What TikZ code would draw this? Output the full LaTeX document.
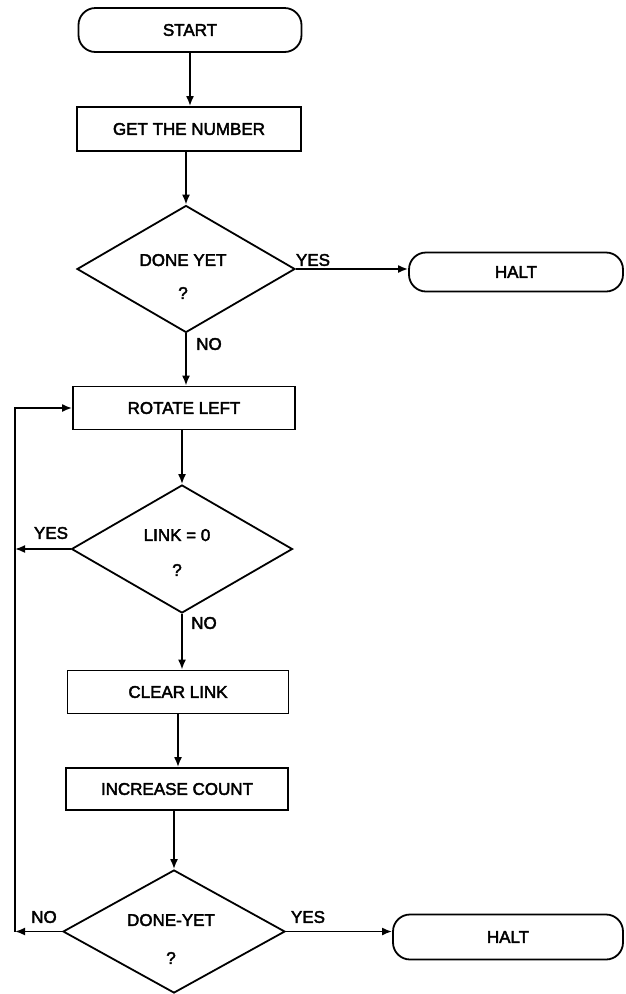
\documentclass[tikz,border=0pt]{standalone}
\usepackage{fontspec}
\setmainfont{Liberation Sans}[FakeBold=2.5]
\usetikzlibrary{shapes.geometric,arrows.meta}
\begin{document}
\begin{tikzpicture}[x=1pt,y=-1pt,
  every node/.style={font=\fontsize{17}{20}\selectfont},
  proc/.style={draw, line width=1.8pt, rectangle, inner sep=0pt},
  term/.style={draw, line width=1.8pt, rectangle, rounded corners=17pt, inner sep=0pt},
  dec/.style={draw, line width=1.8pt, diamond, inner sep=0pt},
  dtxt/.style={inner sep=0pt, align=center},
  lbl/.style={inner sep=0pt},
  arr/.style={line width=1.8pt, -{Latex[length=10pt,width=8pt]}}]
\useasboundingbox (0,0) rectangle (625,994);

% boxes
\node[term, minimum width=223pt, minimum height=44pt] (start) at (190,30) {START};
\node[proc, minimum width=224pt, minimum height=44pt] (get) at (189,129) {GET THE NUMBER};
\node[dec, minimum width=218pt, minimum height=127pt] (d1) at (186,269) {};
\node[dtxt, font=\fontsize{17}{33}\selectfont] (d1t) at (183,276.5) {DONE YET\\?};
\node[term, minimum width=214pt, minimum height=39pt] (halt1) at (516,272) {HALT};
\node[proc, minimum width=222pt, minimum height=43pt] (rot) at (184,408) {ROTATE LEFT};
\node[dec, minimum width=221pt, minimum height=128pt] (d2) at (182,549) {};
\node[dtxt, font=\fontsize{17}{35}\selectfont] (d2t) at (177,552.5) {LINK = 0\\?};
\node[proc, minimum width=221pt, minimum height=43pt] (clr) at (178,692) {CLEAR LINK};
\node[proc, minimum width=222pt, minimum height=42pt] (inc) at (177,789) {INCREASE COUNT};
\node[dec, minimum width=222pt, minimum height=123pt] (d3) at (174,931.5) {};
\node[dtxt, font=\fontsize{17}{38}\selectfont] (d3t) at (171,939) {DONE-YET\\?};
\node[term, minimum width=230pt, minimum height=45pt] (halt2) at (508,937) {HALT};

% labels
\node[lbl] (y1) at (313,260) {YES};
\node[lbl] (n1) at (209,344) {NO};
\node[lbl] (y2) at (51,533) {YES};
\node[lbl] (n2) at (204,623) {NO};
\node[lbl] (n3) at (44,917) {NO};
\node[lbl] (y3) at (308,917) {YES};

% loop column
\coordinate (lx) at (15,0);
\coordinate (lb) at (d3.west -| lx);

% connectors
\draw[arr] (start.south) -- (start.south |- get.north);
\draw[arr] (get.south -| d1.north) -- (d1.north);
\draw[arr] (d1.east) -- (d1.east -| halt1.west);
\draw[arr] (d1.south) -- (d1.south |- rot.north);
\draw[arr] (rot.south -| d2.north) -- (d2.north);
\draw[arr] (d2.south) -- (d2.south |- clr.north);
\draw[arr] (clr.south) -- (clr.south |- inc.north);
\draw[arr] (inc.south -| d3.north) -- (d3.north);
\draw[arr] (d3.east) -- (d3.east -| halt2.west);
\draw[arr] (d3.west) -- (lb);
\draw[arr] (lb) |- (rot.west);
\draw[arr] (d2.west) -- (d2.west -| lx);
\end{tikzpicture}
\end{document}
